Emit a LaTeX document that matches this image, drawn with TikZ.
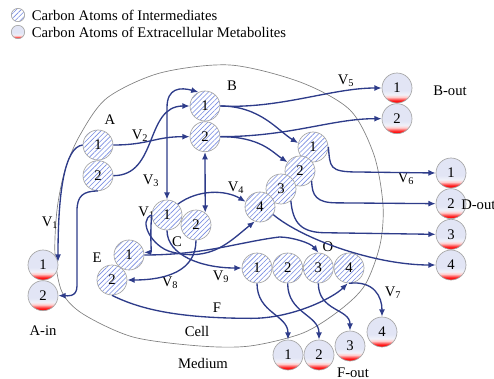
\documentclass[tikz,border=0pt]{standalone}
\usepackage{fontspec}
\setmainfont{Liberation Serif}
\usetikzlibrary{arrows.meta, positioning, patterns.meta}

\definecolor{fluxblue}{RGB}{46,60,138}
\definecolor{hatchblue}{RGB}{120,140,225}
\definecolor{lavend}{RGB}{226,229,245}
\pgfdeclareverticalshading{extshade}{100bp}{color(0bp)=(red); color(25bp)=(red);
  color(29bp)=(red!90!white); color(35bp)=(red!20!white); color(39bp)=(lavend!50!white);
  color(46bp)=(lavend); color(100bp)=(lavend)}

\begin{document}
\begin{tikzpicture}[x=0.75pt, y=-0.75pt, >=Latex, node distance=0pt,
  font=\fontsize{11}{13}\selectfont,
  inter/.style={circle, draw=gray!70, line width=0.5pt, minimum size=22.5pt, inner sep=0pt,
    preaction={fill=white}, pattern={Lines[angle=45, distance=2.6pt, line width=0.45pt]},
    pattern color=hatchblue},
  extra/.style={circle, draw=gray!70, line width=0.5pt, minimum size=22.5pt, inner sep=0pt,
    shading=extshade},
  flux/.style={draw=fluxblue, line width=1pt, -{Latex[length=5.5pt, width=4.5pt]}},
  both/.style={{Latex[length=5.5pt, width=4.5pt]}-{Latex[length=5.5pt, width=4.5pt]}},
  lbl/.style={inner sep=0pt}]
  \useasboundingbox (0,0) rectangle (494,379);

  \draw[gray, line width=0.5pt] plot[smooth cycle] coordinates {(230,65) (300,82) (350,110)
    (374,155) (383,205) (380,245) (365,285) (340,310) (303,333) (250,346) (200,346)
    (133,337) (83,314) (62,292) (55,255) (57,210) (65,170) (80,135) (107,98) (160,73)};

  \node[inter, minimum size=10pt] (legI) at (18,15) {};
  \node[extra, minimum size=10pt] (legE) at (18,32) {};
  \node[lbl, right=5pt of legI] (legIt) {Carbon Atoms of Intermediates};
  \node[lbl, right=5pt of legE] (legEt) {Carbon Atoms of Extracellular Metabolites};

  \node[lbl] (labA) at (110,120) {A};
  \node[lbl] (labB) at (232,86) {B};
  \node[lbl] (labC) at (177,242) {C};
  \node[lbl] (labE) at (97,258) {E};
  \node[lbl] (labO) at (328,247) {O};
  \node[lbl] (v1) at (50,223) {V\textsubscript{1}};
  \node[lbl] (v2) at (140,136) {V\textsubscript{2}};
  \node[lbl] (v3) at (151,181) {V\textsubscript{3}};
  \node[lbl] (v4) at (236,188) {V\textsubscript{4}};
  \node[lbl] (v5) at (346,81) {V\textsubscript{5}};
  \node[lbl] (v6) at (406,179) {V\textsubscript{6}};
  \node[lbl] (v7) at (393,293) {V\textsubscript{7}};
  \node[lbl] (v8) at (170,283) {V\textsubscript{8}};
  \node[lbl] (v9) at (221,277) {V\textsubscript{9}};
  \node[lbl, anchor=west] (v10) at (138,213) {V\textsubscript{10}};
  \node[lbl] (labF) at (217,308) {F};
  \node[lbl] (cell) at (197,331) {Cell};
  \node[lbl] (medium) at (203,363) {Medium};
  \node[lbl] (ain) at (43,331) {A-in};
  \node[lbl] (bout) at (450,91) {B-out};
  \node[lbl] (fout) at (353,373) {F-out};

  \node[inter] (A1) at (98,145) {1};
  \node[inter, below=of A1] (A2) {2};
  \node[extra] (Ain1) at (43,265) {1};
  \node[extra, below=of Ain1] (Ain2) {2};
  \node[inter] (B1) at (205,106) {1};
  \node[inter, below=of B1] (B2) {2};
  \node[extra] (Bout1) at (397,88) {1};
  \node[extra, below=of Bout1] (Bout2) {2};
  \node[inter] (C1) at (167,215) {1};
  \node[inter] (C2) at (196,225) {2};
  \node[inter] (D1) at (313,147) {1};
  \node[inter] (D2) at (300,171) {2};
  \node[inter] (D3) at (281,189) {3};
  \node[inter] (D4) at (260,207) {4};
  \node[extra] (Dout1) at (451,173) {1};
  \node[extra, below=of Dout1] (Dout2) {2};
  \node[extra, below=of Dout2] (Dout3) {3};
  \node[extra, below=of Dout3] (Dout4) {4};
  \node[inter] (E1) at (129,255) {1};
  \node[inter] (E2) at (112,280) {2};
  \node[inter] (F1) at (257,268) {1};
  \node[inter, right=of F1] (F2) {2};
  \node[inter, right=of F2] (F3) {3};
  \node[inter, right=of F3] (F4) {4};
  \node[extra] (Fout1) at (288,355) {1};
  \node[extra] (Fout2) at (319,355) {2};
  \node[extra] (Fout3) at (350,346) {3};
  \node[extra] (Fout4) at (382,332) {4};
  \node[lbl, anchor=west] (dout) at (461,205) {D-out};

  \draw[flux] (A1.west) .. controls +(-18,2) and +(0,-70) .. (Ain1.12);
  \draw[flux] (A2.south) .. controls +(-15,0) and +(0,-15) .. ++(-21,20) -- ++(0,75)
    .. controls +(0,12) and +(8,0) .. (Ain2.east);
  \draw[flux] (A1.east) .. controls +(35,0) and +(-35,0) .. (B2.west);
  \draw[flux] (A2.east) .. controls +(45,0) and +(-45,0) .. (B1.west);
  \draw[flux, both] (C1.north) -- ++(0,-92) .. controls +(0,-20) and +(-18,-5) .. (B1.115);
  \draw[flux, both] (B2.south) -- (C2.53);
  \draw[flux] (B1.east) .. controls +(60,3) and +(-50,0) .. (Bout1.west);
  \draw[flux] (B1.east) .. controls +(40,0) and +(-20,-12) .. (D1.165);
  \draw[flux] (B2.east) .. controls +(70,0) and +(-50,0) .. (Bout2.west);
  \draw[flux] (B2.east) .. controls +(40,0) and +(-15,-10) .. (D2.145);
  \draw[flux] (D1.east) .. controls +(2,20) and +(-30,0) .. ++(30,25) -- (Dout1.west);
  \draw[flux] (D2.-40) .. controls +(0,15) and +(-20,0) .. ++(25,22) -- (Dout2.west);
  \draw[flux] (D3.-50) .. controls +(2,22) and +(-25,0) .. ++(35,32) -- (Dout3.west);
  \draw[flux] (D4.-30) .. controls +(30,25) and +(-60,0) .. (Dout4.west);
  \draw[flux] (C1.45) .. controls +(20,-15) and +(-20,-12) .. (D4.160);
  \draw[flux] (C1.south) .. controls +(0,25) and +(-40,0) .. (F1.west);
  \draw[flux] (C1.west) .. controls +(-2,25) and +(8,0) .. (E1.10);
  \draw[flux] (C1.west) .. controls +(-14,5) and +(-20,-5) .. ++(20,37)
    .. controls +(40,10) and +(-25,20) .. (D4.-110);
  \draw[flux] (C2.south) .. controls +(0,30) and +(40,0) .. (E2.east);
  \draw[flux] (E1.east) .. controls +(60,0) and +(-40,5) .. ++(135,-18)
    .. controls +(12,0) and +(-8,-10) .. (F3.north);
  \draw[flux] (E2.south) .. controls +(30,15) and +(-70,0) .. ++(140,23)
    .. controls +(40,0) and +(-15,15) .. (F4.-95);
  \draw[flux] (F4.south) .. controls +(25,-3) and +(0,-20) .. (Fout4.north);
  \draw[flux] (F1.south) .. controls +(0,30) and +(0,-25) .. (Fout1.north);
  \draw[flux] (F2.south) .. controls +(0,30) and +(0,-25) .. (Fout2.north);
  \draw[flux] (F3.south) .. controls +(0,28) and +(0,-22) .. (Fout3.north);
\end{tikzpicture}
\end{document}
